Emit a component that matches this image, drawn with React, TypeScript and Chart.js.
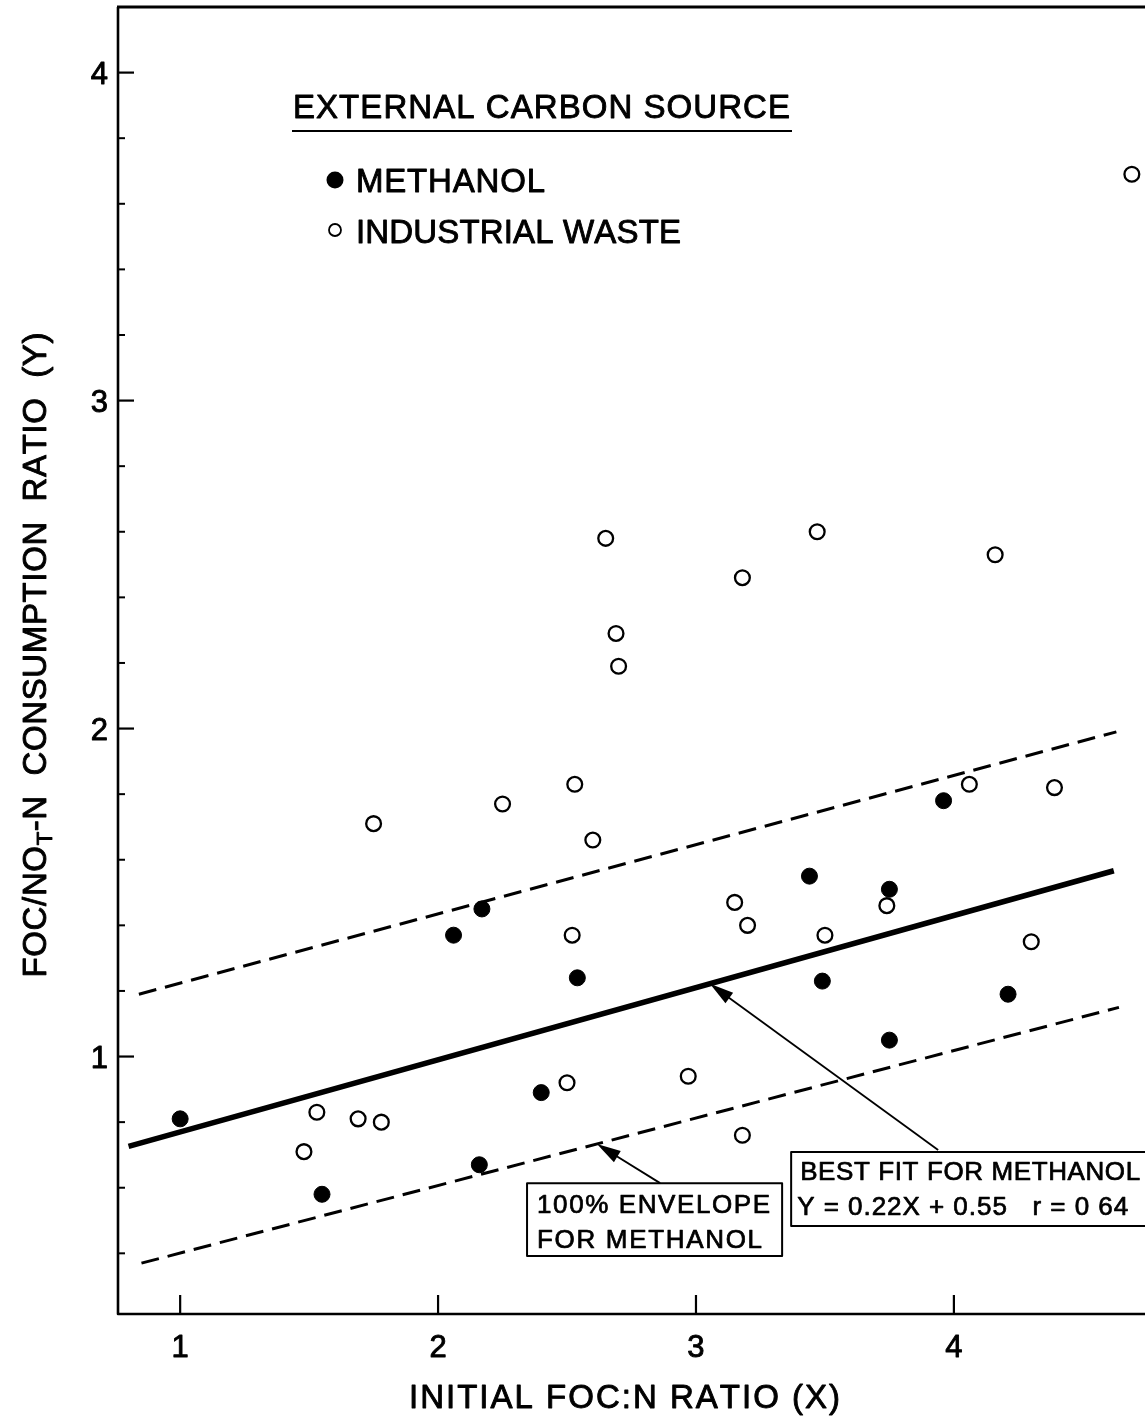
import React, { useEffect, useRef } from "react";
import { Chart, registerables } from "chart.js";

Chart.register(...registerables);

// ---- data ----
const methanolX = [1.0, 1.55, 2.06, 2.17, 2.16, 2.4, 2.54, 3.44, 3.49, 3.75, 3.75, 3.96, 4.21];
const methanolY = [0.81, 0.58, 1.37, 1.45, 0.67, 0.89, 1.24, 1.55, 1.23, 1.51, 1.05, 1.78, 1.19];

const wasteX = [4.69, 2.65, 3.47, 3.18, 4.16, 2.69, 2.7, 1.75, 2.25, 2.53, 2.6, 4.06, 4.39, 3.15, 3.2, 3.74, 2.52, 3.5, 4.3, 2.5, 2.97, 1.53, 1.48, 1.69, 1.78, 3.18];
const wasteY = [3.69, 2.58, 2.6, 2.46, 2.53, 2.29, 2.19, 1.71, 1.77, 1.83, 1.66, 1.83, 1.82, 1.47, 1.4, 1.46, 1.37, 1.37, 1.35, 0.92, 0.94, 0.83, 0.71, 0.81, 0.8, 0.76];

// best fit for methanol: Y = 0.22X + 0.55
const fitSlope = 0.22;
const fitIntercept = 0.55;
const fitRangeX = [0.8, 4.62];

// 100% envelope for methanol
const upperEnvelopeX = [0.84, 4.63];
const upperEnvelopeY = [1.19, 1.99];
const lowerEnvelopeX = [0.85, 4.64];
const lowerEnvelopeY = [0.37, 1.15];

const xTickValues = [1, 2, 3, 4];
const yTickValues = [1, 2, 3, 4];
const yMinorTickValues = [0.4, 0.6, 0.8, 1.2, 1.4, 1.6, 1.8, 2.2, 2.4, 2.6, 2.8, 3.2, 3.4, 3.6, 3.8];

const X_MIN = 0.759;
const X_MAX = 4.741;
const Y_MIN = 0.215;
const Y_MAX = 4.2;

// ---- layout ----
const W = 1145;
const H = 1421;
const AREA_LEFT = 118;
const AREA_TOP = 7;
const AREA_BOTTOM = 1314;
const FONT = '"Liberation Sans", Arial, Helvetica, sans-serif';
const INK = 0.9; // extra stroke to give the lettering its printed weight

const fitAt = (x: number) => fitSlope * x + fitIntercept;
const lowerAt = (x: number) =>
  lowerEnvelopeY[0] + ((x - lowerEnvelopeX[0]) * (lowerEnvelopeY[1] - lowerEnvelopeY[0])) / (lowerEnvelopeX[1] - lowerEnvelopeX[0]);

function ink(ctx: CanvasRenderingContext2D, t: string, x: number, y: number) {
  ctx.fillText(t, x, y);
  ctx.strokeText(t, x, y);
}

// draw text spread to a given width, char by char
function spaced(ctx: CanvasRenderingContext2D, text: string, x: number, y: number, width: number) {
  const chars = Array.from(text);
  const natural = chars.reduce((s, c) => s + ctx.measureText(c).width, 0);
  const extra = chars.length > 1 ? (width - natural) / (chars.length - 1) : 0;
  let cx = x;
  for (const c of chars) {
    ink(ctx, c, cx, y);
    cx += ctx.measureText(c).width + extra;
  }
}

function arrow(ctx: CanvasRenderingContext2D, x0: number, y0: number, x1: number, y1: number) {
  const ang = Math.atan2(y1 - y0, x1 - x0);
  const len = 24;
  const half = 6.5;
  ctx.lineWidth = 1.8;
  ctx.beginPath();
  ctx.moveTo(x0, y0);
  ctx.lineTo(x1 - Math.cos(ang) * 10, y1 - Math.sin(ang) * 10);
  ctx.stroke();
  const bx = x1 - Math.cos(ang) * len;
  const by = y1 - Math.sin(ang) * len;
  ctx.beginPath();
  ctx.moveTo(x1, y1);
  ctx.lineTo(bx - Math.sin(ang) * half, by + Math.cos(ang) * half);
  ctx.lineTo(bx + Math.sin(ang) * half, by - Math.cos(ang) * half);
  ctx.closePath();
  ctx.fill();
}

const paperPlugin = {
  id: "paperFrame",
  afterDatasetsDraw(chart: any) {
    const ctx: CanvasRenderingContext2D = chart.ctx;
    const xs = chart.scales.x;
    const ys = chart.scales.y;
    const { left, right, top, bottom } = chart.chartArea;
    ctx.save();
    ctx.strokeStyle = "#000";
    ctx.fillStyle = "#000";
    ctx.lineCap = "butt";
    ctx.lineJoin = "round";

    // frame: left, bottom and top lines
    ctx.lineWidth = 2.6;
    ctx.beginPath();
    ctx.moveTo(left, top);
    ctx.lineTo(left, bottom);
    ctx.lineTo(right + 2, bottom);
    ctx.stroke();
    ctx.lineWidth = 3;
    ctx.beginPath();
    ctx.moveTo(left - 1, top);
    ctx.lineTo(right + 2, top);
    ctx.stroke();

    // inward tick marks
    ctx.lineWidth = 2.2;
    for (const v of yTickValues) {
      const py = ys.getPixelForValue(v);
      ctx.beginPath();
      ctx.moveTo(left, py);
      ctx.lineTo(left + 16, py);
      ctx.stroke();
    }
    ctx.lineWidth = 2;
    for (const v of yMinorTickValues) {
      const py = ys.getPixelForValue(v);
      ctx.beginPath();
      ctx.moveTo(left, py);
      ctx.lineTo(left + 7, py);
      ctx.stroke();
    }
    ctx.lineWidth = 2.2;
    for (const v of xTickValues) {
      const px = xs.getPixelForValue(v);
      ctx.beginPath();
      ctx.moveTo(px, bottom);
      ctx.lineTo(px, bottom - 19);
      ctx.stroke();
    }

    ctx.lineWidth = INK;

    // tick labels
    ctx.font = `31px ${FONT}`;
    ctx.textBaseline = "alphabetic";
    ctx.textAlign = "right";
    for (const v of yTickValues) {
      ink(ctx, String(v), left - 10, ys.getPixelForValue(v) + 11);
    }
    ctx.textAlign = "center";
    for (const v of xTickValues) {
      ink(ctx, String(v), xs.getPixelForValue(v), 1357);
    }
    ctx.textAlign = "left";

    // x axis title
    ctx.font = `33px ${FONT}`;
    spaced(ctx, "INITIAL FOC:N RATIO (X)", 409, 1408, 431);

    // y axis title (rotated, with subscript T)
    ctx.save();
    ctx.translate(46, 655);
    ctx.rotate(-Math.PI / 2);
    const parts = [
      { t: "FOC/NO", size: 33, dy: 0 },
      { t: "T", size: 22, dy: 6 },
      { t: "-N  CONSUMPTION  RATIO  (Y)", size: 33, dy: 0 },
    ];
    let nat = 0;
    let count = 0;
    for (const p of parts) {
      ctx.font = `${p.size}px ${FONT}`;
      for (const c of Array.from(p.t)) {
        nat += ctx.measureText(c).width;
        count++;
      }
    }
    const total = 645;
    const extra = (total - nat) / (count - 1);
    let cx = -total / 2;
    for (const p of parts) {
      ctx.font = `${p.size}px ${FONT}`;
      for (const c of Array.from(p.t)) {
        ink(ctx, c, cx, p.dy);
        cx += ctx.measureText(c).width + extra;
      }
    }
    ctx.restore();

    // legend block
    ctx.font = `33px ${FONT}`;
    spaced(ctx, "EXTERNAL CARBON SOURCE", 293, 118, 497);
    ctx.lineWidth = 2.2;
    ctx.beginPath();
    ctx.moveTo(292, 131);
    ctx.lineTo(792, 131);
    ctx.stroke();
    ctx.beginPath();
    ctx.arc(335, 180, 8.5, 0, Math.PI * 2);
    ctx.fill();
    ctx.lineWidth = 1.8;
    ctx.beginPath();
    ctx.arc(335, 230, 6, 0, Math.PI * 2);
    ctx.stroke();
    ctx.lineWidth = INK;
    spaced(ctx, "METHANOL", 356, 192, 189);
    spaced(ctx, "INDUSTRIAL WASTE", 356, 243, 325);

    // annotation: best fit
    const b1L = xs.getPixelForValue(3.369);
    const b1T = ys.getPixelForValue(0.709);
    const b1B = ys.getPixelForValue(0.483);
    ctx.fillStyle = "#fff";
    ctx.fillRect(b1L, b1T, right + 20 - b1L, b1B - b1T);
    ctx.fillStyle = "#000";
    ctx.lineWidth = 2;
    ctx.strokeRect(b1L, b1T, right + 20 - b1L, b1B - b1T);
    ctx.font = `26px ${FONT}`;
    ctx.lineWidth = INK * 0.8;
    spaced(ctx, "BEST FIT FOR METHANOL", b1L + 9, b1T + 28, 340);
    spaced(ctx, "Y = 0.22X + 0.55   r = 0 64", b1L + 6, b1T + 63, 331);
    arrow(ctx, xs.getPixelForValue(3.939), ys.getPixelForValue(0.715), xs.getPixelForValue(3.054), ys.getPixelForValue(fitAt(3.054)));

    // annotation: envelope
    const b2L = xs.getPixelForValue(2.345);
    const b2R = xs.getPixelForValue(3.334);
    const b2T = ys.getPixelForValue(0.614);
    const b2B = ys.getPixelForValue(0.392);
    ctx.fillStyle = "#fff";
    ctx.fillRect(b2L, b2T, b2R - b2L, b2B - b2T);
    ctx.fillStyle = "#000";
    ctx.lineWidth = 2;
    ctx.strokeRect(b2L, b2T, b2R - b2L, b2B - b2T);
    ctx.lineWidth = INK * 0.8;
    spaced(ctx, "100% ENVELOPE", b2L + 10, b2T + 30, 233);
    spaced(ctx, "FOR METHANOL", b2L + 10, b2T + 65, 225);
    arrow(ctx, xs.getPixelForValue(2.861), ys.getPixelForValue(0.614), xs.getPixelForValue(2.616), ys.getPixelForValue(lowerAt(2.616)));

    ctx.restore();
  },
};

export default function App() {
  const ref = useRef<HTMLCanvasElement>(null);

  useEffect(() => {
    if (!ref.current) return;
    const chart = new Chart(ref.current, {
      type: "scatter",
      data: {
        datasets: [
          {
            label: "METHANOL",
            data: methanolX.map((x, i) => ({ x, y: methanolY[i] })),
            pointRadius: 8,
            pointBackgroundColor: "#000",
            pointBorderColor: "#000",
            pointBorderWidth: 1,
          },
          {
            label: "INDUSTRIAL WASTE",
            data: wasteX.map((x, i) => ({ x, y: wasteY[i] })),
            pointRadius: 7.4,
            pointBackgroundColor: "#fff",
            pointBorderColor: "#000",
            pointBorderWidth: 2.3,
          },
          {
            label: "BEST FIT",
            data: fitRangeX.map((x) => ({ x, y: fitAt(x) })),
            showLine: true,
            borderColor: "#000",
            borderWidth: 5.5,
            pointRadius: 0,
          },
          {
            label: "UPPER ENVELOPE",
            data: upperEnvelopeX.map((x, i) => ({ x, y: upperEnvelopeY[i] })),
            showLine: true,
            borderColor: "#000",
            borderWidth: 3,
            borderDash: [18, 9],
            borderCapStyle: "butt",
            pointRadius: 0,
          },
          {
            label: "LOWER ENVELOPE",
            data: lowerEnvelopeX.map((x, i) => ({ x, y: lowerEnvelopeY[i] })),
            showLine: true,
            borderColor: "#000",
            borderWidth: 3,
            borderDash: [18, 9],
            borderCapStyle: "butt",
            pointRadius: 0,
          },
        ],
      } as any,
      options: {
        animation: false,
        responsive: false,
        devicePixelRatio: 1,
        events: [],
        layout: { autoPadding: false, padding: { top: AREA_TOP, left: 0, right: 0, bottom: 0 } },
        plugins: { legend: { display: false }, tooltip: { enabled: false } },
        scales: {
          x: {
            type: "linear",
            min: X_MIN,
            max: X_MAX,
            grid: { display: false },
            border: { display: false },
            ticks: { display: false },
            afterBuildTicks: (s: any) => {
              s.ticks = xTickValues.map((v) => ({ value: v }));
            },
            afterFit: (s: any) => {
              s.height = H - AREA_BOTTOM;
            },
          },
          y: {
            type: "linear",
            min: Y_MIN,
            max: Y_MAX,
            grid: { display: false },
            border: { display: false },
            ticks: { display: false },
            afterBuildTicks: (s: any) => {
              s.ticks = yTickValues.map((v) => ({ value: v }));
            },
            afterFit: (s: any) => {
              s.width = AREA_LEFT;
            },
          },
        },
      } as any,
      plugins: [paperPlugin],
    });
    return () => chart.destroy();
  }, []);

  return (
    <div style={{ position: "absolute", left: 0, top: 0, width: W, height: H, background: "#fff", overflow: "hidden" }}>
      <canvas ref={ref} width={W} height={H} style={{ display: "block", width: W, height: H }} />
    </div>
  );
}
